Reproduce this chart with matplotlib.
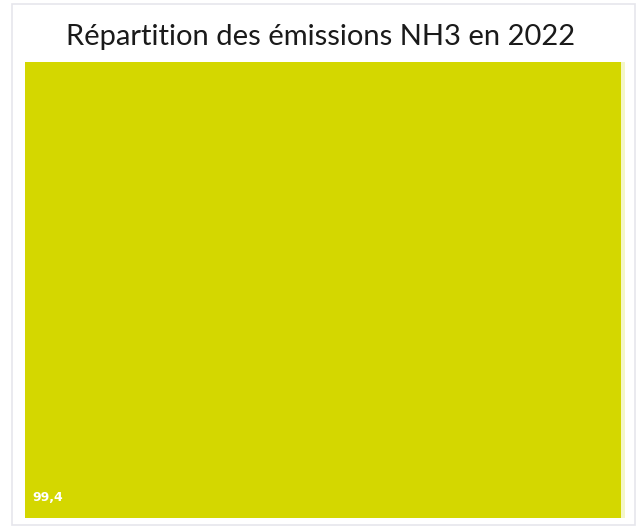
import matplotlib.pyplot as plt
from matplotlib.patches import Rectangle

# Data
categories = ["Agriculture", "Autres"]
values = [99.4, 0.6]
labels = ["99,4", ""]
colors = ["#d4d700", "#f4f6c8"]

fig = plt.figure(figsize=(6.41, 5.28), dpi=100)
fig.patch.set_facecolor("white")

# faint outer frame
fig.add_artist(Rectangle((12 / 641, 3 / 528), 623 / 641, 521 / 528,
                         transform=fig.transFigure, fill=False,
                         edgecolor="#e6e6ec", linewidth=1.2))

fig.text(0.5, 1 - 37 / 528, "Répartition des émissions NH3 en 2022",
         ha="center", va="center", fontsize=21, color="#1a1a1a",
         family="Lato")

ax = fig.add_axes([25 / 641, 1 - 518 / 528, 600 / 641, 456 / 528])
total = sum(values)
x0 = 0
for cat, v, lab, c in zip(categories, values, labels, colors):
    w = v / total
    ax.add_patch(Rectangle((x0, 0), w, 1, facecolor=c, edgecolor="none"))
    if lab:
        ax.text(x0 + 0.012, 0.03, lab, color="white", fontsize=9,
                fontweight="bold", ha="left", va="bottom")
    x0 += w

ax.set_xlim(0, 1)
ax.set_ylim(0, 1)
ax.axis("off")

fig.savefig("out.png", dpi=100)
